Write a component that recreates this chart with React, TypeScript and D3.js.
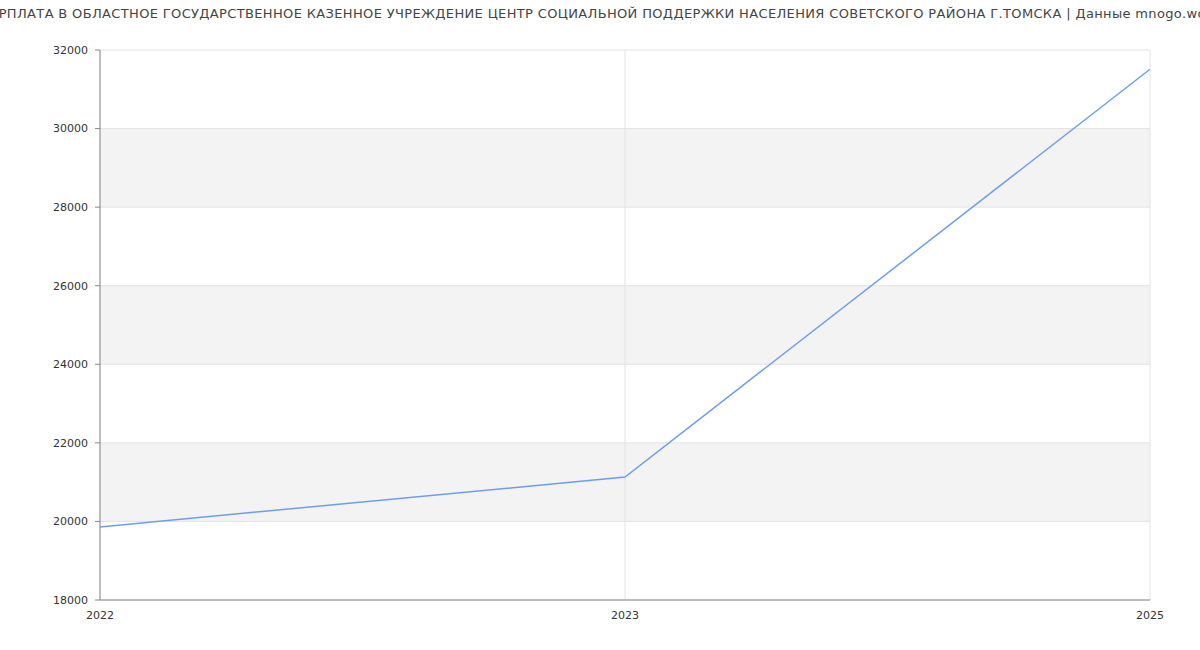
import React from "react";
import * as d3 from "d3";

const title =
  "ЗАРПЛАТА В ОБЛАСТНОЕ ГОСУДАРСТВЕННОЕ КАЗЕННОЕ УЧРЕЖДЕНИЕ ЦЕНТР СОЦИАЛЬНОЙ ПОДДЕРЖКИ НАСЕЛЕНИЯ СОВЕТСКОГО РАЙОНА Г.ТОМСКА | Данные mnogo.work";
const years = ["2022", "2023", "2025"];
const salaries = [19860, 21130, 31510];
const yTicks = [18000, 20000, 22000, 24000, 26000, 28000, 30000, 32000];

export default function App() {
  const W = 1200, H = 650;
  const left = 100, right = 1150, top = 50, bottom = 600;
  const x = d3.scalePoint<string>().domain(years).range([left, right]);
  const y = d3.scaleLinear().domain([18000, 32000]).range([bottom, top]);
  const line = d3
    .line<number>()
    .x((_, i) => x(years[i]) as number)
    .y((d) => y(d));
  const font = "'DejaVu Sans', sans-serif";
  const bands = yTicks.slice(0, -1).filter((_, i) => i % 2 === 1);
  return (
    <svg width={W} height={H} style={{ position: "absolute", left: 0, top: 0 }}>
      <rect x={0} y={0} width={W} height={H} fill="#fff" />
      {bands.map((t) => (
        <rect key={t} x={left} width={right - left} y={y(t + 2000)} height={y(t) - y(t + 2000)} fill="#f3f3f3" />
      ))}
      {yTicks.map((t) => (
        <line key={t} x1={left} x2={right} y1={y(t)} y2={y(t)} stroke="#e3e3e3" strokeWidth={1} />
      ))}
      {years.map((yr) => (
        <line key={yr} x1={x(yr)} x2={x(yr)} y1={top} y2={bottom} stroke="#e3e3e3" strokeWidth={1} />
      ))}
      <line x1={left} x2={left} y1={top} y2={bottom} stroke="#888" />
      <line x1={left} x2={right} y1={bottom} y2={bottom} stroke="#888" />
      {yTicks.map((t) => (
        <g key={t}>
          <line x1={left - 5} x2={left} y1={y(t)} y2={y(t)} stroke="#888" />
          <text x={left - 12} y={y(t)} dy="0.35em" textAnchor="end" fontFamily={font} fontSize={11} fill="#333">
            {t}
          </text>
        </g>
      ))}
      {years.map((yr) => (
        <text key={yr} x={x(yr)} y={bottom + 19} textAnchor="middle" fontFamily={font} fontSize={11} fill="#333">
          {yr}
        </text>
      ))}
      <path d={line(salaries) || ""} fill="none" stroke="#6d9eeb" strokeWidth={1.5} />
      <text x={600} y={18} textAnchor="middle" fontFamily={font} fontSize={13} letterSpacing={0.35} fill="#444">
        {title}
      </text>
    </svg>
  );
}
